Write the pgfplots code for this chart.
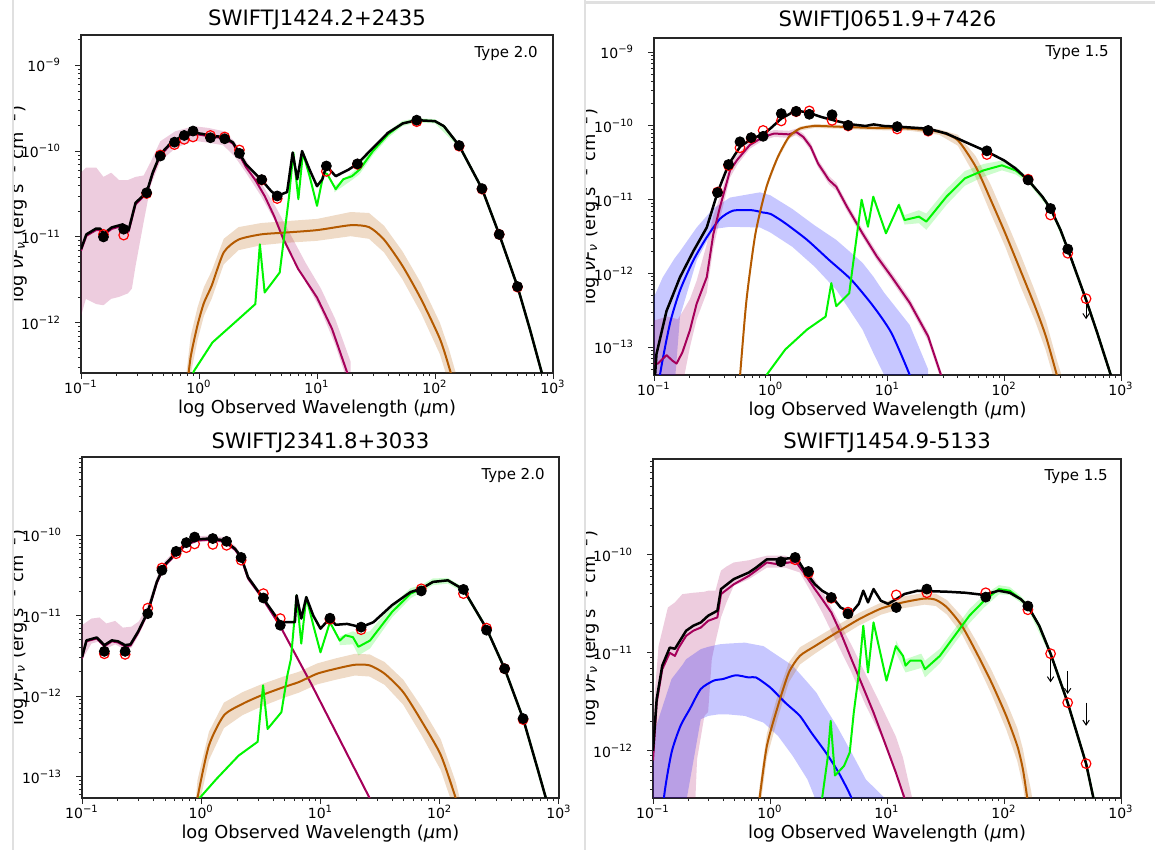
\documentclass[border=0pt]{standalone}
\usepackage{fontspec}
\setmainfont{DejaVu Sans}
\usepackage{pgfplots}
\pgfplotsset{compat=1.18}
\usepackage{pgfplotstable}
\usepgfplotslibrary{fillbetween}
\usetikzlibrary{arrows.meta}

\definecolor{hostc}{RGB}{165,0,90}
\definecolor{torc}{RGB}{180,90,0}
\definecolor{sbc}{RGB}{0,245,0}
\definecolor{bbbc}{RGB}{0,0,255}

\newcommand\tl[1]{10\textsuperscript{−#1}}
\newcommand\tf{\fontsize{7}{8}\selectfont}
\newcommand\lf{\fontsize{8.9}{10}\selectfont}
\newcommand\ttf{\fontsize{10.6}{12}\selectfont}
\newcommand\typf{\fontsize{7.5}{8.5}\selectfont}
\newcommand\band[3]{%
\addplot[draw=none, name path=#2u] table[x=x,y=hi]{#1};
\addplot[draw=none, name path=#2l] table[x=x,y=lo]{#1};
\addplot[#3, draw=none] fill between[of=#2u and #2l];}

%%%%%%%%%%%%%%%% Panel A: SWIFTJ1424.2+2435
\pgfplotstableread{
x y
0.1 7.2e-12
0.111 1.07e-11
0.134 1.25e-11
0.145 1.25e-11
0.157 1.1e-11
0.182 1.29e-11
0.226 1.4e-11
0.253 1.2e-11
0.29 2.5e-11
0.36 3.3e-11
0.405 5.6e-11
0.47 9.2e-11
0.58 1.25e-10
0.72 1.5e-10
0.89 1.64e-10
1.05 1.59e-10
1.3 1.5e-10
1.62 1.46e-10
1.94 1.26e-10
2.2 9.4e-11
2.5 7.0e-11
3.35 4.7e-11
4.1 3.4e-11
4.6 3.0e-11
5.58 3.33e-11
6.22 9.6e-11
6.8 4.7e-11
7.47 1.0e-10
8.64 6.1e-11
10 3.9e-11
11.1 4.7e-11
12 6.7e-11
14.4 5.1e-11
18.6 6.1e-11
22 7.1e-11
29.8 1.09e-10
39.9 1.63e-10
53.4 2.1e-10
70 2.29e-10
100 2.23e-10
119 1.95e-10
160 1.16e-10
250 3.65e-11
350 1.07e-11
500 2.64e-12
637 8.4e-13
804 2.6e-13
900 1.4e-13
}\PaTot
\pgfplotstableread{
x y
0.1 6.9e-12
0.111 1.03e-11
0.134 1.2e-11
0.145 1.2e-11
0.157 1.06e-11
0.182 1.24e-11
0.226 1.35e-11
0.253 1.15e-11
0.29 2.4e-11
0.36 3.2e-11
0.405 5.4e-11
0.47 8.9e-11
0.58 1.21e-10
0.72 1.45e-10
0.89 1.58e-10
1.05 1.54e-10
1.3 1.46e-10
1.62 1.42e-10
1.94 1.22e-10
2.2 9.0e-11
2.5 6.5e-11
3.0 4.6e-11
3.6 3.0e-11
4.33 1.75e-11
5.19 9.4e-12
6.95 4.2e-12
10 1.97e-12
13.4 8.5e-13
17.9 2.7e-13
20 1.8e-13
}\PaHost
\pgfplotstableread{
x lo hi
0.1 1.2e-12 5.6e-11
0.11 1.9e-12 6.4e-11
0.135 1.65e-12 6.4e-11
0.155 1.6e-12 5.0e-11
0.18 1.9e-12 5.6e-11
0.21 2.0e-12 4.6e-11
0.25 2.2e-12 4.6e-11
0.27 2.5e-12 4.8e-11
0.29 4.6e-12 5.0e-11
0.34 1.5e-11 5.2e-11
0.39 4.0e-11 7.5e-11
0.47 7.6e-11 1.3e-10
0.63 1.08e-10 1.7e-10
0.9 1.32e-10 1.95e-10
1.2 1.25e-10 1.86e-10
1.6 1.17e-10 1.71e-10
2.0 8.7e-11 1.3e-10
2.5 5.6e-11 7.8e-11
3.35 3.0e-11 4.3e-11
4.5 1.45e-11 2.2e-11
6.0 6.6e-12 1.05e-11
8.0 3.0e-12 5.0e-12
10.8 1.4e-12 2.5e-12
14.3 5.5e-13 1.1e-12
19.3 1.6e-13 3.5e-13
}\PaHB
\pgfplotstableread{
x y lo hi
0.78 1.5e-13 8e-14 2.5e-13
0.85 4.0e-13 2.5e-13 7e-13
0.97 9.3e-13 6.2e-13 1.5e-12
1.1 1.7e-12 1.2e-12 2.6e-12
1.28 2.7e-12 1.9e-12 4.0e-12
1.62 6.6e-12 4.8e-12 9.5e-12
2.16 9.3e-12 7.0e-12 1.3e-11
3.35 1.07e-11 8.0e-12 1.45e-11
5.2 1.12e-11 8.5e-12 1.52e-11
10 1.2e-11 9.0e-12 1.62e-11
19.3 1.37e-11 1.02e-11 1.95e-11
27.6 1.3e-11 9.5e-12 1.9e-11
37 9.3e-12 6.6e-12 1.35e-11
53 4.6e-12 3.2e-12 6.8e-12
76 1.9e-12 1.3e-12 2.9e-12
110 6.5e-13 4.3e-13 1.0e-12
132 3.0e-13 1.9e-13 4.8e-13
150 1.6e-13 1.0e-13 2.6e-13
}\PaTor
\pgfplotstableread{
x y
0.85 1.8e-13
0.9 2.7e-13
1.3 5.9e-13
2.16 1.1e-12
3.0 1.65e-12
3.28 8.2e-12
3.6 2.25e-12
4.83 3.85e-12
5.4 1.34e-11
5.8 3.0e-11
6.3 9.6e-11
6.95 2.75e-11
7.6 9.6e-11
8.65 5.1e-11
10 2.3e-11
11.4 5.6e-11
12.2 5.4e-11
14.4 3.6e-11
16.7 4.7e-11
19.8 5.1e-11
23 6.1e-11
29.8 1.0e-10
40 1.56e-10
53 2.1e-10
70 2.29e-10
100 2.23e-10
119 1.95e-10
160 1.16e-10
250 3.65e-11
350 1.07e-11
500 2.64e-12
637 8.4e-13
804 2.6e-13
900 1.4e-13
}\PaSbl
\pgfplotstableread{
x lo hi
14 3.3e-11 3.9e-11
19.8 4.6e-11 5.6e-11
23 5.4e-11 6.8e-11
29.8 9.0e-11 1.12e-10
40 1.42e-10 1.7e-10
53 1.95e-10 2.25e-10
70 2.15e-10 2.42e-10
100 2.1e-10 2.35e-10
160 1.1e-10 1.22e-10
250 3.45e-11 3.85e-11
350 1.01e-11 1.13e-11
500 2.5e-12 2.78e-12
804 2.45e-13 2.75e-13
}\PaSB
\pgfplotstableread{
x obs mod
0.155 1.0e-11 1.07e-11
0.23 1.23e-11 1.05e-11
0.36 3.27e-11 3.2e-11
0.47 8.75e-11 9.0e-11
0.62 1.27e-10 1.19e-10
0.75 1.52e-10 1.37e-10
0.89 1.71e-10 1.46e-10
1.25 1.43e-10 1.52e-10
1.65 1.39e-10 1.46e-10
2.2 9.4e-11 1.03e-10
3.4 4.65e-11 4.6e-11
4.6 3.0e-11 2.8e-11
12 6.7e-11 5.8e-11
22 7.1e-11 7.0e-11
70 2.29e-10 2.2e-10
160 1.16e-10 1.14e-10
250 3.65e-11 3.6e-11
350 1.07e-11 1.07e-11
500 2.64e-12 2.6e-12
}\PaPts

%%%%%%%%%%%%%%%% Panel B: SWIFTJ0651.9+7426
\pgfplotstableread{
x y
0.1 2.5e-14
0.105 8.1e-14
0.128 3.1e-13
0.167 8.9e-13
0.217 2.0e-12
0.283 4.2e-12
0.35 1.25e-11
0.435 3.0e-11
0.545 5.2e-11
0.69 6.76e-11
0.86 7.7e-11
0.99 9.2e-11
1.23 1.26e-10
1.65 1.63e-10
2.14 1.5e-10
2.73 1.32e-10
3.64 1.17e-10
4.9 1.05e-10
6.5 1.0e-10
7.6 1.05e-10
9.3 1.0e-10
12.1 9.8e-11
22.3 9.2e-11
32 7.9e-11
46 6.1e-11
71 4.5e-11
100 3.4e-11
125 2.65e-11
160 1.85e-11
212 1.1e-11
249 7.6e-12
303 3.9e-12
350 2.14e-12
502 4.4e-13
626 1.56e-13
817 4.2e-14
900 2.5e-14
}\PbTot
\pgfplotstableread{
x y
0.1 6.0e-14
0.108 6.0e-14
0.117 6.8e-14
0.128 7.8e-14
0.145 6.5e-14
0.156 6.0e-14
0.175 8.5e-14
0.203 1.7e-13
0.232 3.9e-13
0.283 8.9e-13
0.322 3.4e-12
0.367 7.9e-12
0.448 2.5e-11
0.518 3.5e-11
0.66 5.5e-11
0.86 7.1e-11
1.07 7.9e-11
1.43 7.7e-11
1.65 8.3e-11
1.9 7.1e-11
2.2 5.2e-11
2.54 3.1e-11
3.15 1.85e-11
3.64 1.5e-11
4.5 8.0e-12
6.1 3.5e-12
8.1 1.7e-12
10.8 9.1e-13
15.5 4.0e-13
22.3 1.4e-13
28.7 4.2e-14
32 2.5e-14
}\PbHost
\pgfplotstableread{
x lo hi
0.1 2e-14 2.3e-13
0.13 2e-14 2.6e-13
0.16 3e-14 2.4e-13
0.175 3e-14 3.0e-13
0.203 1.0e-13 4.5e-13
0.232 2.4e-13 8e-13
0.283 5.5e-13 2.5e-12
0.322 2.2e-12 6e-12
0.367 5.5e-12 1.1e-11
0.448 2.0e-11 3.1e-11
0.518 3.0e-11 4.1e-11
0.66 4.9e-11 6.2e-11
0.86 6.4e-11 7.9e-11
1.07 7.1e-11 8.8e-11
1.43 6.9e-11 8.6e-11
1.65 7.5e-11 9.2e-11
1.9 6.4e-11 7.9e-11
2.2 4.6e-11 5.9e-11
2.54 2.75e-11 3.5e-11
3.15 1.62e-11 2.1e-11
3.64 1.32e-11 1.7e-11
4.5 7.0e-12 9.1e-12
6.1 3.1e-12 4.0e-12
8.1 1.5e-12 1.95e-12
10.8 8.0e-13 1.04e-12
15.5 3.5e-13 4.6e-13
22.3 1.2e-13 1.6e-13
28.7 3.6e-14 4.8e-14
32 2e-14 3e-14
}\PbHB
\pgfplotstableread{
x y
0.105 1e-14
0.112 4e-14
0.137 2.1e-13
0.167 5.9e-13
0.217 1.5e-12
0.283 3.1e-12
0.367 5.5e-12
0.475 7.1e-12
0.69 7.2e-12
0.86 6.7e-12
1.0 6.4e-12
1.33 4.8e-12
2.05 2.85e-12
3.15 1.53e-12
4.9 8.2e-13
7.55 3.6e-13
10.8 1.56e-13
15.5 4.2e-14
18 2e-14
}\PbBbb
\pgfplotstableread{
x lo hi
0.1 1e-14 4.8e-13
0.119 1e-14 8.9e-13
0.15 3e-14 1.6e-12
0.167 2.6e-13 2.0e-12
0.232 1.5e-12 4.2e-12
0.322 4.0e-12 7.6e-12
0.448 4.3e-12 1.07e-11
0.81 4.2e-12 1.26e-11
0.99 3.6e-12 1.15e-11
1.53 2.3e-12 7.5e-12
2.37 1.24e-12 4.5e-12
3.64 6.0e-13 2.85e-12
6.1 1.74e-13 1.4e-12
7.55 8.4e-14 9.1e-13
9.35 4.2e-14 5.5e-13
15.5 1e-14 2.0e-13
22.3 1e-14 5.0e-14
}\PbBB
\pgfplotstableread{
x y lo hi
0.52 1.5e-14 1.4e-14 1.6e-14
0.545 4.0e-14 3.6e-14 4.4e-14
0.62 4.4e-13 4.0e-13 4.8e-13
0.74 3.5e-12 3.2e-12 3.8e-12
0.92 1.5e-11 1.38e-11 1.62e-11
1.15 3.8e-11 3.5e-11 4.1e-11
1.43 7.1e-11 6.6e-11 7.6e-11
1.77 9.2e-11 8.6e-11 9.8e-11
2.37 1.0e-10 9.4e-11 1.06e-10
3.64 9.8e-11 9.2e-11 1.04e-10
7.55 9.4e-11 8.8e-11 1.0e-10
15.5 9.2e-11 8.6e-11 9.8e-11
27.7 8.3e-11 7.6e-11 9.0e-11
40 6.4e-11 5.4e-11 7.6e-11
57 2.8e-11 2.0e-11 3.9e-11
76.5 1.0e-11 6.5e-12 1.6e-11
102 3.5e-12 2.3e-12 5.6e-12
137 1.12e-12 6.8e-13 1.85e-12
183 3.6e-13 2.3e-13 5.8e-13
227 1.41e-13 9.0e-14 2.3e-13
282 4.2e-14 2.7e-14 6.7e-14
320 2e-14 1.2e-14 3.5e-14
}\PbTor
\pgfplotstableread{
x y
0.88 2e-14
0.92 4.2e-14
1.33 9.3e-14
2.05 1.74e-13
2.95 2.6e-13
3.3 7.4e-13
3.64 3.6e-13
4.7 5.4e-13
5.26 2.1e-12
6.0 1.0e-11
6.8 4.3e-12
7.55 1.1e-11
9.7 3.5e-12
12.5 8.5e-12
14 5.3e-12
18.6 5.9e-12
21.5 5.05e-12
32 1.1e-11
46 1.95e-11
66.5 2.5e-11
95.5 2.93e-11
125 2.5e-11
160 1.85e-11
212 1.1e-11
249 7.6e-12
303 3.9e-12
350 2.14e-12
502 4.4e-13
626 1.56e-13
817 4.2e-14
900 2.5e-14
}\PbSbl
\pgfplotstableread{
x lo hi
12.5 7.5e-12 9.5e-12
14 4.6e-12 6.2e-12
18.6 4.8e-12 7.2e-12
21.5 3.9e-12 6.5e-12
32 8.5e-12 1.4e-11
46 1.55e-11 2.45e-11
66.5 2.05e-11 3.05e-11
95.5 2.5e-11 3.4e-11
125 2.2e-11 2.85e-11
160 1.7e-11 2.0e-11
249 7.1e-12 8.1e-12
350 2.0e-12 2.28e-12
502 4.1e-13 4.7e-13
817 3.9e-14 4.5e-14
}\PbSB
\pgfplotstableread{
x obs mod
0.35 1.25e-11 1.27e-11
0.435 3.0e-11 2.9e-11
0.545 6.1e-11 5.05e-11
0.68 6.95e-11 6.8e-11
0.86 7.24e-11 8.7e-11
1.23 1.47e-10 1.17e-10
1.65 1.58e-10 1.56e-10
2.14 1.44e-10 1.6e-10
3.35 1.42e-10 1.19e-10
4.6 1.02e-10 1.0e-10
12.1 9.8e-11 9.1e-11
22.3 8.7e-11 8.5e-11
71 4.6e-11 4.1e-11
160 1.85e-11 1.9e-11
249 7.6e-12 6.2e-12
350 2.14e-12 1.88e-12
502 nan 4.55e-13
}\PbPts

%%%%%%%%%%%%%%%% Panel C: SWIFTJ2341.8+3033
\pgfplotstableread{
x y
0.1 3.05e-12
0.109 4.93e-12
0.133 5.35e-12
0.154 4.3e-12
0.178 4.93e-12
0.2 4.8e-12
0.23 4.3e-12
0.255 4.4e-12
0.295 6.3e-12
0.356 1.11e-11
0.424 2.63e-11
0.49 4.23e-11
0.606 5.9e-11
0.75 7.9e-11
0.93 8.9e-11
1.16 9.1e-11
1.55 8.7e-11
1.92 6.8e-11
2.16 5.4e-11
2.47 3.0e-11
3.17 1.79e-11
4.57 8.3e-12
4.9 8.3e-12
6.1 8.3e-12
6.3 1.79e-11
6.9 9.2e-12
7.6 1.7e-11
8.7 1.0e-11
10 6.9e-12
12.0 9.3e-12
13.4 7.7e-12
16.7 7.9e-12
21.9 7.2e-12
27.8 8.3e-12
39.8 1.35e-11
57 1.97e-11
70 2.16e-11
87.7 2.63e-11
117 2.75e-11
158 2.12e-11
247 6.9e-12
350 2.19e-12
500 5.25e-13
660 1.26e-13
776 5.4e-14
850 3e-14
}\PcTot
\pgfplotstableread{
x y
0.1 2.95e-12
0.109 4.8e-12
0.133 5.2e-12
0.154 4.15e-12
0.178 4.8e-12
0.2 4.65e-12
0.23 4.15e-12
0.255 4.25e-12
0.295 6.1e-12
0.356 1.08e-11
0.424 2.55e-11
0.49 4.1e-11
0.606 5.7e-11
0.75 7.65e-11
0.93 8.6e-11
1.16 8.8e-11
1.55 8.4e-11
1.92 6.6e-11
2.16 5.2e-11
2.47 2.9e-11
3.17 1.75e-11
4.57 7.5e-12
8.4 1.4e-12
25.8 5.4e-14
30 3e-14
}\PcHost
\pgfplotstableread{
x lo hi
0.1 2.8e-12 7.6e-12
0.12 4.5e-12 9.2e-12
0.14 4.8e-12 9.5e-12
0.16 3.9e-12 8.0e-12
0.19 4.4e-12 8.6e-12
0.22 3.9e-12 7.1e-12
0.26 4.0e-12 7.3e-12
0.3 5.8e-12 8.5e-12
0.356 1.0e-11 1.35e-11
0.424 2.4e-11 3.0e-11
0.49 3.9e-11 4.7e-11
0.606 5.5e-11 6.5e-11
0.75 7.3e-11 8.6e-11
0.93 8.2e-11 9.7e-11
1.16 8.4e-11 9.9e-11
1.55 8.0e-11 9.5e-11
1.92 6.3e-11 7.4e-11
2.16 4.9e-11 5.8e-11
2.47 2.7e-11 3.2e-11
3.17 1.65e-11 1.9e-11
4.57 7.1e-12 8.0e-12
8.4 1.33e-12 1.48e-12
25.8 5.1e-14 5.7e-14
30 2.8e-14 3.2e-14
}\PcHB
\pgfplotstableread{
x y lo hi
0.9 3e-14 2e-14 5e-14
0.93 5.4e-14 3.5e-14 9e-14
1.16 2.43e-13 1.6e-13 3.6e-13
1.55 5.75e-13 4.0e-13 8.3e-13
2.22 8.0e-13 5.8e-13 1.12e-12
3.19 1.02e-12 7.4e-13 1.4e-12
4.9 1.29e-12 9.5e-13 1.75e-12
6.56 1.49e-12 1.1e-12 2.0e-12
9.4 1.9e-12 1.4e-12 2.55e-12
13.5 2.19e-12 1.6e-12 2.95e-12
19.4 2.45e-12 1.8e-12 3.35e-12
25.8 2.41e-12 1.75e-12 3.3e-12
34.5 1.9e-12 1.38e-12 2.65e-12
49.4 1.12e-12 7.8e-13 1.6e-12
70.9 4.8e-13 3.2e-13 7.2e-13
102 1.85e-13 1.2e-13 2.9e-13
136 5.4e-14 3.4e-14 8.6e-14
150 3e-14 1.9e-14 4.8e-14
}\PcTor
\pgfplotstableread{
x y
0.93 3e-14
0.97 5.4e-14
1.34 9.3e-14
2.06 1.82e-13
2.97 2.7e-13
3.3 1.36e-12
3.6 3.9e-13
4.7 6.3e-13
5.27 1.8e-12
5.65 2.9e-12
6.3 1.79e-11
6.9 4.5e-12
7.6 1.7e-11
8.7 7.6e-12
10 3.5e-12
12.0 8.3e-12
14.5 4.9e-12
16.2 5.7e-12
18.7 5.4e-12
20.8 4.1e-12
26 4.9e-12
39.8 1.11e-11
57 1.88e-11
70 2.16e-11
87.7 2.63e-11
117 2.75e-11
158 2.12e-11
247 6.9e-12
350 2.19e-12
500 5.25e-13
660 1.26e-13
776 5.4e-14
850 3e-14
}\PcSbl
\pgfplotstableread{
x lo hi
14.5 4.3e-12 5.5e-12
18.7 4.4e-12 6.4e-12
20.8 3.2e-12 6.0e-12
26 3.9e-12 6.4e-12
39.8 9.5e-12 1.35e-11
57 1.65e-11 2.2e-11
70 1.95e-11 2.4e-11
87.7 2.4e-11 2.9e-11
117 2.5e-11 2.95e-11
158 1.95e-11 2.25e-11
247 6.5e-12 7.3e-12
350 2.06e-12 2.32e-12
500 4.9e-13 5.6e-13
776 5.1e-14 5.7e-14
}\PcSB
\pgfplotstableread{
x obs mod
0.154 3.6e-12 3.36e-12
0.23 3.6e-12 3.3e-12
0.356 1.06e-11 1.24e-11
0.468 3.67e-11 3.92e-11
0.616 6.3e-11 5.9e-11
0.75 8.1e-11 7.0e-11
0.88 9.5e-11 7.8e-11
1.25 9.1e-11 7.7e-11
1.63 8.4e-11 7.5e-11
2.16 5.3e-11 4.9e-11
3.32 1.66e-11 1.88e-11
4.6 7.6e-12 9.2e-12
12.0 9.3e-12 9.0e-12
21.9 7.2e-12 6.7e-12
70 2.03e-11 2.16e-11
158 2.12e-11 1.88e-11
247 6.6e-12 7.0e-12
350 2.19e-12 2.19e-12
500 5.25e-13 5.1e-13
}\PcPts

%%%%%%%%%%%%%%%% Panel D: SWIFTJ1454.9-5133
\pgfplotstableread{
x y
0.1 1.0e-12
0.1075 3.37e-12
0.12 7.4e-12
0.139 1.13e-11
0.154 1.1e-11
0.166 1.27e-11
0.192 1.68e-11
0.221 1.89e-11
0.256 2.04e-11
0.296 2.39e-11
0.355 2.69e-11
0.381 4.47e-11
0.49 5.65e-11
0.66 6.6e-11
0.76 7.4e-11
0.94 9.0e-11
1.17 9.0e-11
1.45 9.2e-11
1.68 9.4e-11
1.94 7.1e-11
2.42 5.0e-11
2.79 4.3e-11
3.34 3.8e-11
4.01 2.9e-11
4.97 2.57e-11
5.74 3.16e-11
6.27 4.3e-11
6.88 3.27e-11
7.67 4.47e-11
8.86 3.4e-11
10.2 3.16e-11
12.0 3.53e-11
14.1 3.98e-11
18.2 4.3e-11
32.6 4.2e-11
46.7 4.1e-11
67 3.9e-11
90 4.3e-11
112 4.1e-11
139 3.53e-11
160 3.0e-11
200 1.89e-11
250 9.8e-12
350 3.1e-12
503 7.4e-13
581 3.3e-13
650 1.8e-13
}\PdTot
\pgfplotstableread{
x y
0.1 8e-13
0.1075 3.1e-12
0.12 6.8e-12
0.139 1.0e-11
0.154 9.3e-12
0.166 1.13e-11
0.192 1.49e-11
0.221 1.68e-11
0.256 1.81e-11
0.296 2.12e-11
0.355 2.3e-11
0.381 3.97e-11
0.49 5.0e-11
0.66 6.1e-11
0.76 6.9e-11
0.94 8.35e-11
1.17 8.0e-11
1.45 8.35e-11
1.68 8.35e-11
1.94 6.6e-11
2.42 4.47e-11
2.79 3.53e-11
3.34 2.58e-11
4.01 1.61e-11
4.97 8.6e-12
6.18 4.6e-12
7.67 2.46e-12
9.55 1.22e-12
11.9 6.0e-13
14.1 3.3e-13
16 2e-13
}\PdHost
\pgfplotstableread{
x lo hi
0.1 1e-13 1.5e-12
0.1036 1e-13 3.9e-12
0.1115 1e-13 1.17e-11
0.134 1e-13 2.9e-11
0.154 1e-13 3.27e-11
0.178 1e-13 3.97e-11
0.221 1e-13 4.1e-11
0.238 8.2e-13 4.13e-11
0.275 2.27e-12 4.2e-11
0.296 2.5e-12 4.3e-11
0.318 8.6e-12 4.3e-11
0.342 1.3e-11 4.3e-11
0.368 1.89e-11 6.0e-11
0.381 2.3e-11 6.9e-11
0.425 3.27e-11 7.6e-11
0.49 4.83e-11 8.35e-11
0.66 5.65e-11 8.8e-11
0.94 7.4e-11 9.8e-11
1.35 7.4e-11 9.8e-11
1.8 6.6e-11 8.35e-11
2.25 4.13e-11 6.3e-11
2.79 2.58e-11 4.3e-11
3.72 1.27e-11 2.3e-11
4.97 6.3e-12 1.2e-11
6.6 2.88e-12 6.0e-12
8.9 1.42e-12 2.9e-12
11.9 6.0e-13 1.4e-12
13.7 3.3e-13 8.5e-13
16.4 1.5e-13 3.3e-13
}\PdHB
\pgfplotstableread{
x y
0.12 1e-13
0.124 3.3e-13
0.144 9.6e-13
0.172 1.8e-12
0.206 2.66e-12
0.256 4.27e-12
0.33 5.2e-12
0.396 5.4e-12
0.51 5.9e-12
0.66 5.6e-12
0.76 5.6e-12
1.01 4.4e-12
1.35 3.1e-12
1.8 2.27e-12
2.25 1.54e-12
3.0 9.6e-13
3.86 6.0e-13
4.97 3.3e-13
5.5 2e-13
}\PdBbb
\pgfplotstableread{
x lo hi
0.1 1e-13 1.42e-12
0.144 1e-13 5.4e-12
0.178 1e-13 7.5e-12
0.192 3e-13 8.6e-12
0.256 2.1e-12 1.09e-11
0.296 2.27e-12 1.15e-11
0.368 2.36e-12 1.22e-11
0.425 2.36e-12 1.24e-11
0.61 2.27e-12 1.27e-11
0.88 1.94e-12 1.17e-11
1.17 1.42e-12 9.3e-12
1.56 8.9e-13 7.4e-12
2.09 5.1e-13 5.0e-12
2.5 3.0e-13 3.9e-12
2.79 1e-13 3.1e-12
3.72 1e-13 1.8e-12
4.97 1e-13 9.6e-13
6.6 1e-13 5.1e-13
9.55 1e-13 3.3e-13
10.5 1e-13 2.5e-13
}\PdBB
\pgfplotstableread{
x y lo hi
0.78 2e-13 1.5e-13 2.6e-13
0.815 3.3e-13 2.4e-13 4.4e-13
0.94 1.12e-12 8.5e-13 1.5e-12
1.17 2.88e-12 2.2e-12 3.8e-12
1.45 6.3e-12 5.0e-12 8.0e-12
1.8 9.3e-12 7.6e-12 1.14e-11
2.42 1.17e-11 9.8e-12 1.4e-11
3.72 1.61e-11 1.38e-11 1.9e-11
5.76 2.2e-11 1.9e-11 2.55e-11
8.9 2.83e-11 2.45e-11 3.25e-11
13.7 3.27e-11 2.85e-11 3.75e-11
21 3.58e-11 3.1e-11 4.1e-11
26.2 3.47e-11 3.0e-11 4.0e-11
32.6 2.9e-11 2.45e-11 3.45e-11
43.6 1.89e-11 1.55e-11 2.35e-11
58.3 1.0e-11 8.0e-12 1.3e-11
78 5.0e-12 3.8e-12 6.7e-12
104.5 2.27e-12 1.65e-12 3.2e-12
130 1.12e-12 7.8e-13 1.7e-12
145 6.5e-13 4.4e-13 1.05e-12
158 3.3e-13 2.2e-13 6.0e-13
170 1.8e-13 1.2e-13 4.0e-13
185 1e-13 6e-14 2.0e-13
}\PdTor
\pgfplotstableread{
x y
2.7 1e-13
2.79 3.3e-13
3.1 8.2e-13
3.3 2.02e-12
3.59 5.6e-13
4.29 7.0e-13
4.8 9.6e-13
5.2 2.46e-12
5.76 6.3e-12
6.27 1.89e-11
6.88 6.3e-12
7.67 2.04e-11
9.9 5.2e-12
11.9 1.17e-11
13.7 9.3e-12
14.4 7.4e-12
15.8 8.3e-12
19.6 8.3e-12
21.1 6.8e-12
28.3 9.3e-12
37.8 1.49e-11
50.6 2.39e-11
67.6 3.4e-11
90.5 4.47e-11
112 4.3e-11
139 3.53e-11
160 3.0e-11
200 1.89e-11
250 9.8e-12
350 3.1e-12
503 7.4e-13
581 3.3e-13
650 1.8e-13
}\PdSbl
\pgfplotstableread{
x lo hi
11.9 1.0e-11 1.35e-11
14.4 6.3e-12 8.6e-12
19.6 7.0e-12 9.8e-12
21.1 5.6e-12 8.3e-12
28.3 7.8e-12 1.1e-11
37.8 1.25e-11 1.75e-11
50.6 2.0e-11 2.8e-11
67.6 2.9e-11 3.9e-11
90.5 3.95e-11 4.9e-11
112 3.9e-11 4.7e-11
139 3.25e-11 3.8e-11
160 2.8e-11 3.2e-11
250 9.2e-12 1.04e-11
350 2.9e-12 3.3e-12
503 6.9e-13 7.9e-13
581 3.1e-13 3.5e-13
}\PdSB
\pgfplotstableread{
x obs mod
1.24 8.5e-11 nan
1.64 9.4e-11 8.9e-11
2.13 6.76e-11 6.5e-11
3.34 3.67e-11 3.6e-11
4.64 2.5e-11 2.6e-11
12.0 2.9e-11 3.9e-11
21.9 4.47e-11 4.1e-11
69.8 3.7e-11 4.1e-11
160 3.0e-11 2.75e-11
250 nan 9.8e-12
350 nan 3.1e-12
503 nan 7.4e-13
}\PdPts

\newcommand\ylab{log \textit{νF}\textsubscript{\textit{ν}} (erg s\textsuperscript{−1} cm\textsuperscript{−2})}

\begin{document}
\begin{tikzpicture}[x=1pt,y=1pt]
\draw[black!12, line width=1.2pt] (6.5,0) -- (6.5,425);
\draw[black!12, line width=1.2pt] (292.5,0) -- (292.5,425);
\draw[black!12, line width=1.2pt] (292.5,423.8) -- (577.5,423.8);

%%%%% Panel A
\begin{axis}[at={(40.5pt,238.5pt)}, anchor=south west, scale only axis, width=236pt, height=169pt,
  xmode=log, ymode=log, xmin=0.1, xmax=1000, ymin=2.6e-13, ymax=2.25e-9,
  tick pos=left, tick align=outside, major tick length=2.8pt, minor tick length=1.6pt,
  tick style={black!85, line width=0.5pt}, minor tick style={black!85, line width=0.4pt},
  axis line style={black!85, line width=0.6pt},
  xtick={0.1,1,10,100,1000},
  xticklabels={\tl{1},10\textsuperscript{0},10\textsuperscript{1},10\textsuperscript{2},10\textsuperscript{3}},
  minor xtick={0.2,0.3,0.4,0.5,0.6,0.7,0.8,0.9,2,3,4,5,6,7,8,9,20,30,40,50,60,70,80,90,200,300,400,500,600,700,800,900},
  ytick={1e-12,1e-11,1e-10,1e-9}, yticklabels={\tl{12},\tl{11},\tl{10},\tl{9}},
  minor ytick={3e-13,4e-13,5e-13,6e-13,7e-13,8e-13,9e-13,2e-12,3e-12,4e-12,5e-12,6e-12,7e-12,8e-12,9e-12,2e-11,3e-11,4e-11,5e-11,6e-11,7e-11,8e-11,9e-11,2e-10,3e-10,4e-10,5e-10,6e-10,7e-10,8e-10,9e-10,2e-9},
  tick label style={font=\tf},
  xticklabel style={anchor=base, yshift=-7.7pt, inner sep=0pt},
  yticklabel style={anchor=east, xshift=-7pt, inner sep=0pt},
  xlabel={log Observed Wavelength (\textit{μ}m)},
  xlabel style={font=\lf, anchor=base, at={(0.5,0)}, yshift=-20.5pt, inner sep=0pt},
  title={SWIFTJ1424.2+2435},
  title style={font=\ttf, anchor=base, at={(0.5,1)}, inner sep=0pt, yshift=-1.5pt}]
\band{\PaHB}{ha}{fill=hostc, fill opacity=0.2}
\band{\PaTor}{ta}{fill=torc, fill opacity=0.22}
\band{\PaSB}{sa}{fill=sbc, fill opacity=0.2}
\addplot[hostc, line width=1pt, line join=round] table[x=x,y=y]{\PaHost};
\addplot[torc, line width=1pt, smooth, tension=0.4] table[x=x,y=y]{\PaTor};
\addplot[sbc, line width=1pt, line join=round] table[x=x,y=y]{\PaSbl};
\addplot[black, line width=1.25pt, line join=round] table[x=x,y=y]{\PaTot};
\addplot[only marks, mark=o, red, mark size=2.4pt, mark options={line width=0.6pt}] table[x=x,y=mod]{\PaPts};
\addplot[only marks, mark=*, black, mark size=2.5pt] table[x=x,y=obs]{\PaPts};
\node[anchor=base east, font=\typf, inner sep=0pt, xshift=-7.5pt, yshift=-11.5pt] at (rel axis cs:1,1) {Type 2.0};
\end{axis}

%%%%% Panel B
\begin{axis}[at={(327pt,237.5pt)}, anchor=south west, scale only axis, width=233.5pt, height=168.5pt,
  xmode=log, ymode=log, xmin=0.1, xmax=1000, ymin=4.2e-14, ymax=1.56e-9,
  tick pos=left, tick align=outside, major tick length=2.8pt, minor tick length=1.6pt,
  tick style={black!85, line width=0.5pt}, minor tick style={black!85, line width=0.4pt},
  axis line style={black!85, line width=0.6pt},
  xtick={0.1,1,10,100,1000},
  xticklabels={\tl{1},10\textsuperscript{0},10\textsuperscript{1},10\textsuperscript{2},10\textsuperscript{3}},
  minor xtick={0.2,0.3,0.4,0.5,0.6,0.7,0.8,0.9,2,3,4,5,6,7,8,9,20,30,40,50,60,70,80,90,200,300,400,500,600,700,800,900},
  ytick={1e-13,1e-12,1e-11,1e-10,1e-9}, yticklabels={\tl{13},\tl{12},\tl{11},\tl{10},\tl{9}},
  minor ytick={5e-14,6e-14,7e-14,8e-14,9e-14,2e-13,3e-13,4e-13,5e-13,6e-13,7e-13,8e-13,9e-13,2e-12,3e-12,4e-12,5e-12,6e-12,7e-12,8e-12,9e-12,2e-11,3e-11,4e-11,5e-11,6e-11,7e-11,8e-11,9e-11,2e-10,3e-10,4e-10,5e-10,6e-10,7e-10,8e-10,9e-10},
  tick label style={font=\tf},
  xticklabel style={anchor=base, yshift=-7.7pt, inner sep=0pt},
  yticklabel style={anchor=east, xshift=-7pt, inner sep=0pt},
  xlabel={log Observed Wavelength (\textit{μ}m)},
  xlabel style={font=\lf, anchor=base, at={(0.5,0)}, yshift=-20.5pt, inner sep=0pt},
  title={SWIFTJ0651.9+7426},
  title style={font=\ttf, anchor=base, at={(0.5,1)}, inner sep=0pt, yshift=-0.5pt}]
\band{\PbBB}{bb}{fill=bbbc, fill opacity=0.22}
\band{\PbHB}{hb}{fill=hostc, fill opacity=0.2}
\band{\PbTor}{tb}{fill=torc, fill opacity=0.22}
\band{\PbSB}{sb}{fill=sbc, fill opacity=0.2}
\addplot[bbbc, line width=1pt, smooth, tension=0.4] table[x=x,y=y]{\PbBbb};
\addplot[hostc, line width=1pt, line join=round] table[x=x,y=y]{\PbHost};
\addplot[torc, line width=1pt, smooth, tension=0.4] table[x=x,y=y]{\PbTor};
\addplot[sbc, line width=1pt, line join=round] table[x=x,y=y]{\PbSbl};
\addplot[black, line width=1.25pt, line join=round] table[x=x,y=y]{\PbTot};
\addplot[only marks, mark=o, red, mark size=2.4pt, mark options={line width=0.6pt}] table[x=x,y=mod]{\PbPts};
\addplot[only marks, mark=*, black, mark size=2.5pt] table[x=x,y=obs]{\PbPts};
\addplot[black, line width=0.5pt, -{Straight Barb[length=2.4pt,width=3.2pt]}] coordinates {(502,4.2e-13) (502,2.4e-13)};
\node[anchor=base east, font=\typf, inner sep=0pt, xshift=-6pt, yshift=-9.5pt] at (rel axis cs:1,1) {Type 1.5};
\end{axis}

%%%%% Panel C
\begin{axis}[at={(41pt,26pt)}, anchor=south west, scale only axis, width=238.5pt, height=170.5pt,
  xmode=log, ymode=log, xmin=0.1, xmax=1000, ymin=5.4e-14, ymax=9.4e-10,
  tick pos=left, tick align=outside, major tick length=2.8pt, minor tick length=1.6pt,
  tick style={black!85, line width=0.5pt}, minor tick style={black!85, line width=0.4pt},
  axis line style={black!85, line width=0.6pt},
  xtick={0.1,1,10,100,1000},
  xticklabels={\tl{1},10\textsuperscript{0},10\textsuperscript{1},10\textsuperscript{2},10\textsuperscript{3}},
  minor xtick={0.2,0.3,0.4,0.5,0.6,0.7,0.8,0.9,2,3,4,5,6,7,8,9,20,30,40,50,60,70,80,90,200,300,400,500,600,700,800,900},
  ytick={1e-13,1e-12,1e-11,1e-10}, yticklabels={\tl{13},\tl{12},\tl{11},\tl{10}},
  minor ytick={6e-14,7e-14,8e-14,9e-14,2e-13,3e-13,4e-13,5e-13,6e-13,7e-13,8e-13,9e-13,2e-12,3e-12,4e-12,5e-12,6e-12,7e-12,8e-12,9e-12,2e-11,3e-11,4e-11,5e-11,6e-11,7e-11,8e-11,9e-11,2e-10,3e-10,4e-10,5e-10,6e-10,7e-10,8e-10,9e-10},
  tick label style={font=\tf},
  xticklabel style={anchor=base, yshift=-7.7pt, inner sep=0pt},
  yticklabel style={anchor=east, xshift=-7pt, inner sep=0pt},
  xlabel={log Observed Wavelength (\textit{μ}m)},
  xlabel style={font=\lf, anchor=base, at={(0.5,0)}, yshift=-20.5pt, inner sep=0pt},
  title={SWIFTJ2341.8+3033},
  title style={font=\ttf, anchor=base, at={(0.5,1)}, inner sep=0pt, yshift=-1.75pt}]
\band{\PcHB}{hc}{fill=hostc, fill opacity=0.2}
\band{\PcTor}{tc}{fill=torc, fill opacity=0.22}
\band{\PcSB}{sc}{fill=sbc, fill opacity=0.2}
\addplot[hostc, line width=1pt, line join=round] table[x=x,y=y]{\PcHost};
\addplot[torc, line width=1pt, smooth, tension=0.4] table[x=x,y=y]{\PcTor};
\addplot[sbc, line width=1pt, line join=round] table[x=x,y=y]{\PcSbl};
\addplot[black, line width=1.25pt, line join=round] table[x=x,y=y]{\PcTot};
\addplot[only marks, mark=o, red, mark size=2.4pt, mark options={line width=0.6pt}] table[x=x,y=mod]{\PcPts};
\addplot[only marks, mark=*, black, mark size=2.5pt] table[x=x,y=obs]{\PcPts};
\node[anchor=base east, font=\typf, inner sep=0pt, xshift=-7pt, yshift=-11pt] at (rel axis cs:1,1) {Type 2.0};
\end{axis}

%%%%% Panel D
\begin{axis}[at={(326.5pt,26pt)}, anchor=south west, scale only axis, width=234pt, height=169.5pt,
  xmode=log, ymode=log, xmin=0.1, xmax=1000, ymin=3.3e-13, ymax=9.5e-10,
  tick pos=left, tick align=outside, major tick length=2.8pt, minor tick length=1.6pt,
  tick style={black!85, line width=0.5pt}, minor tick style={black!85, line width=0.4pt},
  axis line style={black!85, line width=0.6pt},
  xtick={0.1,1,10,100,1000},
  xticklabels={\tl{1},10\textsuperscript{0},10\textsuperscript{1},10\textsuperscript{2},10\textsuperscript{3}},
  minor xtick={0.2,0.3,0.4,0.5,0.6,0.7,0.8,0.9,2,3,4,5,6,7,8,9,20,30,40,50,60,70,80,90,200,300,400,500,600,700,800,900},
  ytick={1e-12,1e-11,1e-10}, yticklabels={\tl{12},\tl{11},\tl{10}},
  minor ytick={4e-13,5e-13,6e-13,7e-13,8e-13,9e-13,2e-12,3e-12,4e-12,5e-12,6e-12,7e-12,8e-12,9e-12,2e-11,3e-11,4e-11,5e-11,6e-11,7e-11,8e-11,9e-11,2e-10,3e-10,4e-10,5e-10,6e-10,7e-10,8e-10,9e-10},
  tick label style={font=\tf},
  xticklabel style={anchor=base, yshift=-7.7pt, inner sep=0pt},
  yticklabel style={anchor=east, xshift=-7pt, inner sep=0pt},
  xlabel={log Observed Wavelength (\textit{μ}m)},
  xlabel style={font=\lf, anchor=base, at={(0.5,0)}, yshift=-20.5pt, inner sep=0pt},
  title={SWIFTJ1454.9-5133},
  title style={font=\ttf, anchor=base, at={(0.5,1)}, inner sep=0pt, yshift=-0.75pt}]
\band{\PdHB}{hd}{fill=hostc, fill opacity=0.2}
\band{\PdBB}{bd}{fill=bbbc, fill opacity=0.22}
\band{\PdTor}{td}{fill=torc, fill opacity=0.22}
\band{\PdSB}{sd}{fill=sbc, fill opacity=0.2}
\addplot[bbbc, line width=1pt, smooth, tension=0.4] table[x=x,y=y]{\PdBbb};
\addplot[hostc, line width=1pt, line join=round] table[x=x,y=y]{\PdHost};
\addplot[torc, line width=1pt, smooth, tension=0.4] table[x=x,y=y]{\PdTor};
\addplot[sbc, line width=1pt, line join=round] table[x=x,y=y]{\PdSbl};
\addplot[black, line width=1.25pt, line join=round] table[x=x,y=y]{\PdTot};
\addplot[only marks, mark=o, red, mark size=2.4pt, mark options={line width=0.6pt}] table[x=x,y=mod]{\PdPts};
\addplot[only marks, mark=*, black, mark size=2.5pt] table[x=x,y=obs]{\PdPts};
\addplot[black, line width=0.5pt, -{Straight Barb[length=2.4pt,width=3.2pt]}] coordinates {(250,8.6e-12) (250,5.0e-12)};
\addplot[black, line width=0.5pt, -{Straight Barb[length=2.4pt,width=3.2pt]}] coordinates {(350,6.5e-12) (350,3.8e-12)};
\addplot[black, line width=0.5pt, -{Straight Barb[length=2.4pt,width=3.2pt]}] coordinates {(503,3.1e-12) (503,1.8e-12)};
\node[anchor=base east, font=\typf, inner sep=0pt, xshift=-6.5pt, yshift=-11pt] at (rel axis cs:1,1) {Type 1.5};
\end{axis}

\begin{scope}
\clip (7.2,0) rectangle (290,425);
\node[rotate=90, anchor=base, font=\lf, inner sep=0pt] at (11.5,323) {\ylab};
\node[rotate=90, anchor=base, font=\lf, inner sep=0pt] at (11.5,111.25) {\ylab};
\end{scope}
\begin{scope}
\clip (293.2,0) rectangle (577.5,425);
\node[rotate=90, anchor=base, font=\lf, inner sep=0pt] at (297.5,321.75) {\ylab};
\node[rotate=90, anchor=base, font=\lf, inner sep=0pt] at (297.5,110.75) {\ylab};
\end{scope}

\pgfresetboundingbox
\useasboundingbox (0,0) rectangle (577.5,425);
\end{tikzpicture}
\end{document}
